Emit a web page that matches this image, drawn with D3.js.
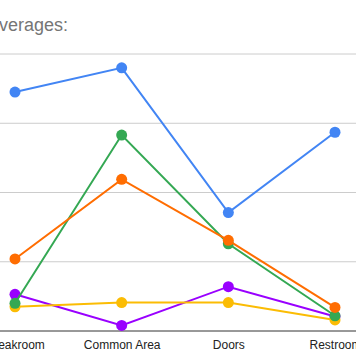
<!DOCTYPE html>
<html><head><meta charset="utf-8">
<script src="https://cdn.jsdelivr.net/npm/d3@7"></script>
<style>html,body{margin:0;padding:0;background:#fff;overflow:hidden}</style>
</head><body>
<svg id="c" width="356" height="364"></svg>
<script>
const categories = ["Breakroom", "Common Area", "Doors", "Restroom"];
const yTicks = [0, 1, 2, 3, 4];
const seriesNames = ["Series 1", "Series 5", "Series 4", "Series 2", "Series 3"];
const seriesColors = ["#4285f4", "#9900ff", "#fbbc04", "#34a853", "#ff6d01"];
const blueValues   = [3.45, 3.80, 1.71, 2.87];
const purpleValues = [0.53, 0.08, 0.64, 0.21];
const yellowValues = [0.35, 0.41, 0.41, 0.16];
const greenValues  = [0.40, 2.83, 1.26, 0.22];
const orangeValues = [1.04, 2.19, 1.31, 0.34];
const seriesValues = [blueValues, purpleValues, yellowValues, greenValues, orangeValues];
const titleText = "Averages:";

const svg = d3.select("#c");
const x = d3.scalePoint().domain(categories).range([15, 335]);
const y = d3.scaleLinear().domain([0, 4]).range([331, 54]);

// gridlines
svg.append("g").selectAll("line").data(yTicks.filter(t => t > 0)).join("line")
  .attr("x1", 0).attr("x2", 356)
  .attr("y1", d => y(d)).attr("y2", d => y(d))
  .attr("stroke", "#cccccc").attr("stroke-width", 1);

// x axis
const xAxis = svg.append("g").attr("transform", `translate(0,${y(0)})`)
  .call(d3.axisBottom(x).tickSize(0).tickPadding(9));
xAxis.select(".domain").remove();
xAxis.selectAll("text").attr("font-family", "Liberation Sans, Arial, sans-serif")
  .attr("font-size", 12).attr("fill", "#222");
svg.append("line").attr("x1", 0).attr("x2", 356).attr("y1", y(0)).attr("y2", y(0))
  .attr("stroke", "#333").attr("stroke-width", 1);

// title
svg.append("text").attr("x", 68).attr("y", 31).attr("text-anchor", "end")
  .attr("font-family", "Liberation Sans, Arial, sans-serif").attr("font-size", 18)
  .attr("fill", "#757575").text(titleText);

const line = d3.line().x((d, i) => x(categories[i])).y(d => y(d));
seriesValues.forEach((vals, si) => {
  const g = svg.append("g").attr("class", "series").attr("data-name", seriesNames[si]);
  g.append("path").datum(vals).attr("d", line).attr("fill", "none")
    .attr("stroke", seriesColors[si]).attr("stroke-width", 2);
  g.selectAll("circle").data(vals).join("circle")
    .attr("cx", (d, i) => x(categories[i])).attr("cy", d => y(d)).attr("r", 5.5)
    .attr("fill", seriesColors[si]);
});
</script>
</body></html>
